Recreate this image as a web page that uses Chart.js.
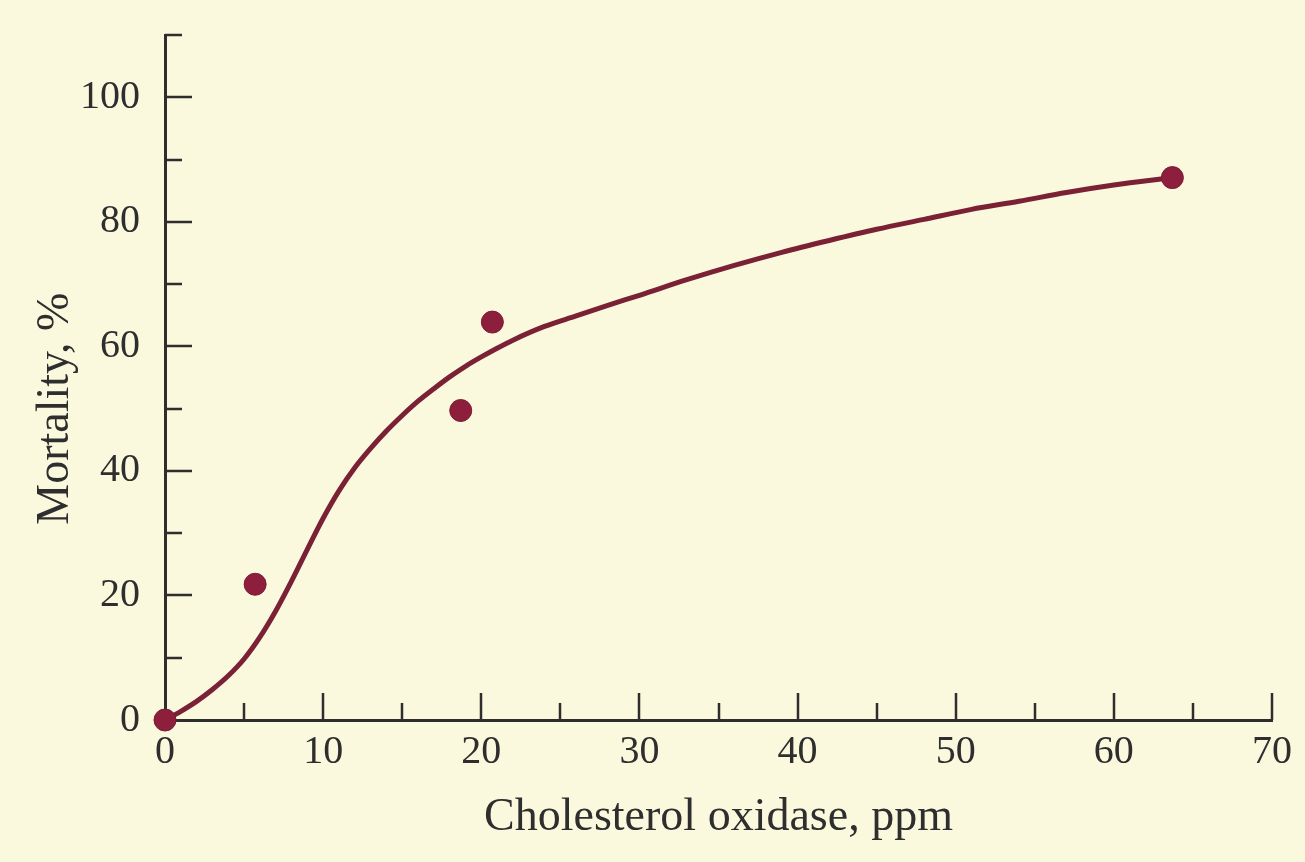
<!DOCTYPE html>
<html>
<head>
<meta charset="utf-8">
<script src="https://cdn.jsdelivr.net/npm/chart.js@4/dist/chart.umd.min.js"></script>
<style>
  html, body { margin: 0; padding: 0; background: #fbf9dd; }
  #wrap { width: 1305px; height: 862px; }
</style>
</head>
<body>
<div id="wrap"><canvas id="myChart" width="1305" height="862"></canvas></div>
<script>
// measured points (cholesterol oxidase ppm, mortality %)
const doseX = [0, 5.7, 18.7, 20.7, 63.7];
const mortalityY = [0, 21.8, 49.7, 63.9, 87.1];

// fitted curve
const curveX = [0, 1, 2, 3, 4, 5, 6, 7, 8, 9, 10, 11, 12, 13, 14, 15, 16, 17, 18, 19, 20, 21, 22, 24, 26, 28, 30, 33, 36, 39, 42, 45, 48, 51, 54, 57, 60, 63.7];
const curveY = [0, 1.4, 3.0, 4.9, 7.1, 9.8, 13.3, 17.5, 22.3, 27.4, 32.4, 36.8, 40.5, 43.6, 46.4, 48.9, 51.2, 53.2, 55.1, 56.8, 58.3, 59.7, 61.0, 63.2, 64.9, 66.6, 68.2, 70.7, 73.0, 75.1, 77.0, 78.8, 80.4, 82.0, 83.3, 84.7, 85.9, 87.1];

const xTicks = [0, 10, 20, 30, 40, 50, 60, 70];
const yTicks = [0, 20, 40, 60, 80, 100];
const yTitle = 'Mortality, %';

const ink = '#2e2e2e';
const serif = "'Liberation Serif', 'DejaVu Serif', serif";

function pairs(xs, ys){
    return xs.map((x, i) => ({x: x, y: ys[i]}));
}

// page colour behind everything
const paper = {
    id: 'paper',
    beforeDraw(chart){
        const c = chart.ctx;
        c.save();
        c.fillStyle = '#fbf9dd';
        c.fillRect(0, 0, chart.width, chart.height);
        c.restore();
    }
};

// tick marks point inward, long ones on labelled values
const innerTicks = {
    id: 'innerTicks',
    beforeDatasetsDraw(chart){
        const c = chart.ctx;
        const xs = chart.scales.x, ys = chart.scales.y;
        const x0 = xs.getPixelForValue(0), y0 = ys.getPixelForValue(0);
        c.save();
        c.strokeStyle = ink;
        c.lineWidth = 2.5;
        c.beginPath();
        for(let v = 5; v <= 70; v += 5){
            const len = v % 10 == 0 ? 27 : 17;
            const px = Math.round(xs.getPixelForValue(v));
            c.moveTo(px, y0);
            c.lineTo(px, y0 - len);
        }
        for(let v = 10; v <= 110; v += 10){
            const len = (yTicks.includes(v)) ? 27 : 17;
            const py = Math.round(ys.getPixelForValue(v));
            c.moveTo(x0, py);
            c.lineTo(x0 + len, py);
        }
        c.stroke();

        // y axis title, centred on the 0-100 range
        c.translate(56, ys.getPixelForValue(50));
        c.rotate(-Math.PI / 2);
        c.fillStyle = ink;
        c.font = '46px ' + serif;
        c.textAlign = 'center';
        c.textBaseline = 'middle';
        c.fillText(yTitle, 0, 0);
        c.restore();
    }
};

const data = {
    datasets: [{
        label: 'observed',
        data: pairs(doseX, mortalityY),
        showLine: false,
        pointRadius: 11,
        pointHoverRadius: 11,
        pointBackgroundColor: '#8d1f3d',
        pointBorderColor: '#7a1b33',
        pointBorderWidth: 1,
        clip: false
    }, {
        label: 'fit',
        data: pairs(curveX, curveY),
        showLine: true,
        pointRadius: 0,
        borderColor: '#7a2135',
        borderWidth: 5,
        cubicInterpolationMode: 'monotone',
        clip: false
    }]
};

const config = {
    type: 'scatter',
    data: data,
    plugins: [paper, innerTicks],
    options: {
        responsive: false,
        animation: false,
        layout: { padding: { top: 35, right: 33, left: 0, bottom: 0 } },
        plugins: {
            legend: { display: false },
            tooltip: { enabled: false }
        },
        scales: {
            x: {
                type: 'linear',
                min: 0,
                max: 70,
                afterFit: s => { s.height = 142; s.paddingLeft = 0; s.paddingRight = 0; },
                afterBuildTicks: s => { s.ticks = xTicks.map(v => ({value: v})); },
                grid: { display: false, drawTicks: false },
                border: { display: true, color: ink, width: 3 },
                ticks: {
                    color: ink,
                    padding: 8,
                    font: { family: serif, size: 40 }
                },
                title: {
                    display: true,
                    text: 'Cholesterol oxidase, ppm',
                    color: ink,
                    font: { family: serif, size: 46 },
                    padding: { top: 0, bottom: 16 }
                }
            },
            y: {
                type: 'linear',
                min: 0,
                max: 110,
                afterFit: s => { s.width = 165; s.paddingTop = 0; s.paddingBottom = 0; },
                afterBuildTicks: s => { s.ticks = yTicks.map(v => ({value: v})); },
                grid: { display: false, drawTicks: false },
                border: { display: true, color: ink, width: 3 },
                ticks: {
                    color: ink,
                    padding: 25,
                    font: { family: serif, size: 40 }
                }
            }
        }
    }
};

const myChart = new Chart(document.getElementById('myChart').getContext('2d'), config);
</script>
</body>
</html>
